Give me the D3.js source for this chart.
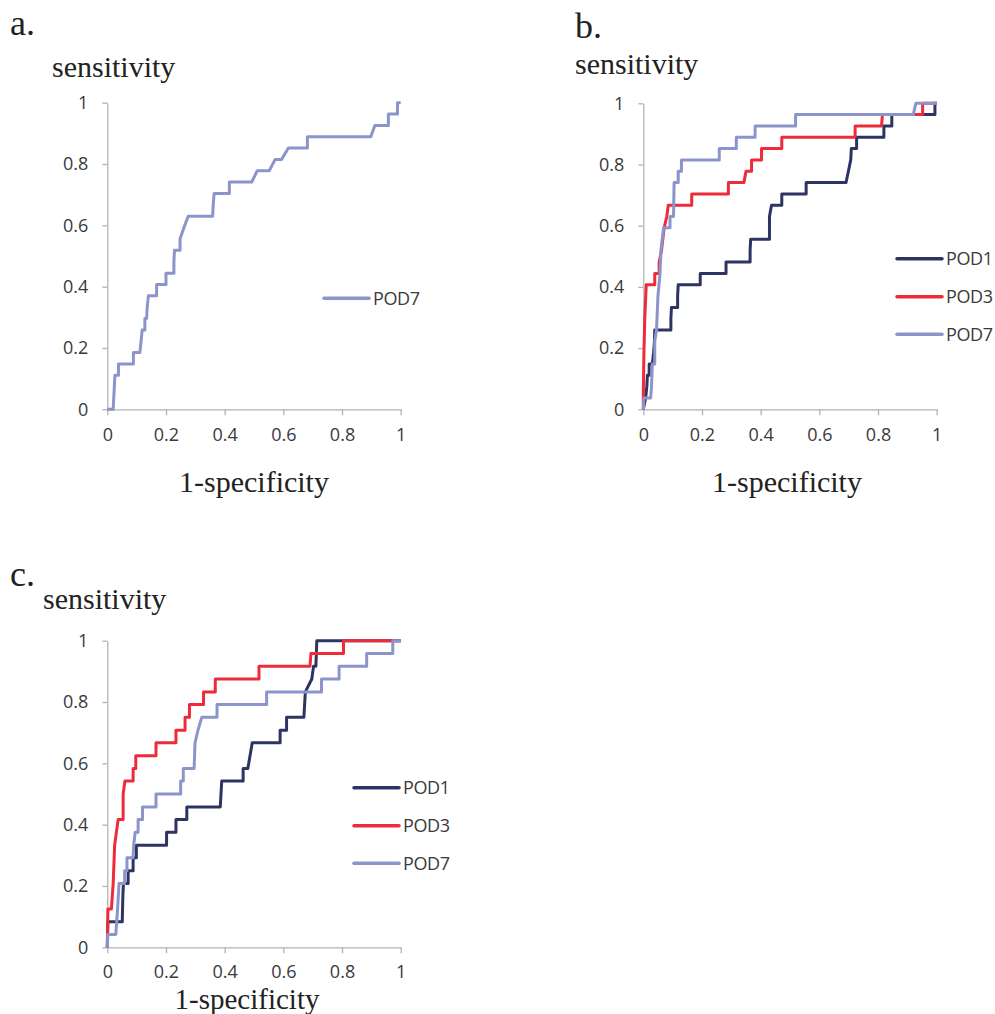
<!DOCTYPE html>
<html>
<head>
<meta charset="utf-8">
<script src="https://cdn.jsdelivr.net/npm/d3@7"></script>
<style>
  html, body { margin: 0; padding: 0; background: #fff; }
</style>
</head>
<body>
<div id="root"></div>
<script>
const SVG_WIDTH = 995;
const SVG_HEIGHT = 1014;

// tick labels
const TICKS = [0, 0.2, 0.4, 0.6, 0.8, 1];

// series names and colours
const SERIES = ['POD1', 'POD3', 'POD7'];
const COLORS = { POD1: '#2e3462', POD3: '#ee2b3b', POD7: '#8b95cc' };

// ROC points [1-specificity, sensitivity]
const aPod7 = [
  [0, 0], [0.02, 0], [0.026, 0.111], [0.038, 0.111], [0.038, 0.148], [0.089, 0.148], [0.089, 0.185],
  [0.111, 0.185], [0.119, 0.259], [0.128, 0.259], [0.128, 0.296], [0.134, 0.296], [0.136, 0.333],
  [0.14, 0.37], [0.168, 0.37], [0.168, 0.407], [0.2, 0.407], [0.2, 0.444], [0.227, 0.444],
  [0.227, 0.481], [0.229, 0.519], [0.248, 0.519], [0.248, 0.556], [0.266, 0.605], [0.276, 0.63],
  [0.359, 0.63], [0.361, 0.667], [0.364, 0.704], [0.416, 0.704], [0.416, 0.741], [0.492, 0.741],
  [0.511, 0.778], [0.552, 0.778], [0.572, 0.815], [0.594, 0.815], [0.617, 0.852], [0.682, 0.852],
  [0.682, 0.889], [0.898, 0.889], [0.912, 0.926], [0.958, 0.926], [0.958, 0.963], [0.989, 0.963],
  [0.989, 1], [1, 1],
];

const bPod1 = [
  [0, 0], [0.008, 0.037], [0.012, 0.074], [0.014, 0.111], [0.02, 0.111], [0.02, 0.148], [0.031, 0.148],
  [0.035, 0.185], [0.038, 0.222], [0.039, 0.259], [0.094, 0.259], [0.094, 0.296], [0.096, 0.333],
  [0.117, 0.333], [0.117, 0.37], [0.119, 0.407], [0.194, 0.407], [0.194, 0.444], [0.282, 0.444],
  [0.282, 0.481], [0.364, 0.481], [0.364, 0.519], [0.366, 0.556], [0.43, 0.556], [0.43, 0.63],
  [0.437, 0.667], [0.472, 0.667], [0.472, 0.704], [0.555, 0.704], [0.555, 0.741], [0.691, 0.741],
  [0.699, 0.778], [0.707, 0.815], [0.709, 0.852], [0.727, 0.852], [0.727, 0.889], [0.82, 0.889],
  [0.82, 0.926], [0.847, 0.926], [0.847, 0.963], [0.994, 0.963], [0.994, 1], [1, 1],
];

const bPod3 = [
  [0, 0], [0, 0.044], [0.002, 0.18], [0.005, 0.296], [0.01, 0.407], [0.039, 0.407], [0.039, 0.444],
  [0.054, 0.444], [0.054, 0.481], [0.062, 0.519], [0.071, 0.593], [0.08, 0.63], [0.085, 0.667],
  [0.165, 0.667], [0.165, 0.704], [0.29, 0.704], [0.29, 0.741], [0.343, 0.741], [0.35, 0.778],
  [0.369, 0.778], [0.369, 0.815], [0.403, 0.815], [0.403, 0.852], [0.472, 0.852], [0.472, 0.889],
  [0.722, 0.889], [0.722, 0.926], [0.812, 0.926], [0.815, 0.963], [0.952, 0.963], [0.952, 1], [1, 1],
];

const bPod7 = [
  [0, 0], [0.002, 0.037], [0.025, 0.037], [0.028, 0.074], [0.031, 0.148], [0.039, 0.148],
  [0.039, 0.222], [0.045, 0.259], [0.05, 0.37], [0.057, 0.444], [0.06, 0.519], [0.069, 0.593],
  [0.091, 0.593], [0.091, 0.63], [0.103, 0.63], [0.105, 0.741], [0.119, 0.741], [0.119, 0.778],
  [0.13, 0.778], [0.13, 0.815], [0.259, 0.815], [0.259, 0.852], [0.317, 0.852], [0.317, 0.889],
  [0.381, 0.889], [0.381, 0.926], [0.519, 0.926], [0.519, 0.963], [0.92, 0.963], [0.929, 1], [1, 1],
];

const cPod1 = [
  [0, 0], [0.002, 0.083], [0.051, 0.083], [0.053, 0.167], [0.055, 0.208], [0.071, 0.208],
  [0.071, 0.25], [0.088, 0.25], [0.088, 0.292], [0.099, 0.292], [0.099, 0.333], [0.202, 0.333],
  [0.202, 0.375], [0.234, 0.375], [0.234, 0.417], [0.271, 0.417], [0.271, 0.458], [0.385, 0.458],
  [0.39, 0.542], [0.463, 0.542], [0.463, 0.583], [0.479, 0.583], [0.494, 0.667], [0.589, 0.667],
  [0.589, 0.708], [0.611, 0.708], [0.611, 0.75], [0.67, 0.75], [0.675, 0.833], [0.697, 0.875],
  [0.703, 0.917], [0.711, 0.917], [0.714, 1], [1, 1],
];

const cPod3 = [
  [0, 0], [0.002, 0.125], [0.014, 0.125], [0.02, 0.208], [0.025, 0.333], [0.031, 0.375],
  [0.037, 0.417], [0.054, 0.417], [0.054, 0.5], [0.06, 0.542], [0.088, 0.542], [0.088, 0.583],
  [0.097, 0.583], [0.097, 0.625], [0.166, 0.625], [0.166, 0.667], [0.234, 0.667], [0.234, 0.708],
  [0.265, 0.708], [0.265, 0.75], [0.28, 0.75], [0.28, 0.792], [0.328, 0.792], [0.328, 0.833],
  [0.368, 0.833], [0.368, 0.875], [0.517, 0.875], [0.517, 0.917], [0.691, 0.917], [0.694, 0.958],
  [0.805, 0.958], [0.805, 1], [1, 1],
];

const cPod7 = [
  [0, 0], [0.002, 0.042], [0.029, 0.042], [0.035, 0.125], [0.04, 0.208], [0.059, 0.208],
  [0.059, 0.25], [0.067, 0.25], [0.067, 0.292], [0.088, 0.292], [0.09, 0.333], [0.095, 0.375],
  [0.105, 0.375], [0.105, 0.417], [0.12, 0.417], [0.12, 0.458], [0.166, 0.458], [0.166, 0.5],
  [0.25, 0.5], [0.25, 0.542], [0.259, 0.542], [0.259, 0.583], [0.296, 0.583], [0.299, 0.667],
  [0.309, 0.708], [0.322, 0.75], [0.374, 0.75], [0.374, 0.792], [0.543, 0.792], [0.543, 0.833],
  [0.73, 0.833], [0.73, 0.875], [0.79, 0.875], [0.79, 0.917], [0.884, 0.917], [0.884, 0.958],
  [0.973, 0.958], [0.973, 1], [1, 1],
];

const PANELS = [
  {
    tag: 'a.', tagX: 10, tagY: 35,
    yTitleX: 52, yTitleY: 77,
    xTitleX: 254, xTitleY: 492, xTitleSize: 30, xPad: 13,
    left: 107.3, right: 400.7, top: 102.7, bottom: 409.3,
    curves: { POD7: aPod7 },
    legendX: 324, legendY: [298.3],
  },
  {
    tag: 'b.', tagX: 575, tagY: 38,
    yTitleX: 575, yTitleY: 74,
    xTitleX: 787, xTitleY: 492, xTitleSize: 30, xPad: 13,
    left: 643.3, right: 936.7, top: 103.3, bottom: 409.3,
    curves: { POD1: bPod1, POD3: bPod3, POD7: bPod7 },
    legendX: 897, legendY: [258.7, 296.7, 334.3],
  },
  {
    tag: 'c.', tagX: 10, tagY: 586,
    yTitleX: 43, yTitleY: 609,
    xTitleX: 247, xTitleY: 1009, xTitleSize: 29, xPad: 12,
    left: 107.3, right: 400.7, top: 640.7, bottom: 947.3,
    curves: { POD1: cPod1, POD3: cPod3, POD7: cPod7 },
    legendX: 354, legendY: [787.7, 825.7, 863.3],
  },
];

const SANS = '"Open Sans", Lato, sans-serif';
const SERIF = '"Liberation Serif", "DejaVu Serif", serif';

function addSvg() {
  const svg = document.createElementNS('http://www.w3.org/2000/svg', 'svg');
  svg.id = 'svg';
  svg.setAttribute('width', SVG_WIDTH);
  svg.setAttribute('height', SVG_HEIGHT);
  return svg;
}

function drawPanel(p) {
  const svg = d3.select('#svg');
  const g = svg.append('g');
  const xScale = d3.scaleLinear().domain([0, 1]).range([p.left, p.right]);
  const yScale = d3.scaleLinear().domain([0, 1]).range([p.bottom, p.top]);

  // axes
  const xAxis = g.append('g')
    .attr('transform', `translate(0,${p.bottom})`)
    .call(d3.axisBottom(xScale).tickValues(TICKS).tickFormat(String).tickSize(6).tickSizeOuter(0).tickPadding(p.xPad));
  const yAxis = g.append('g')
    .attr('transform', `translate(${p.left},0)`)
    .call(d3.axisLeft(yScale).tickValues(TICKS).tickFormat(String).tickSize(5).tickSizeOuter(0).tickPadding(14));
  [xAxis, yAxis].forEach((ax) => {
    ax.selectAll('path, line').attr('stroke', '#b3b3b3').attr('stroke-width', 1.3);
    ax.selectAll('text')
      .attr('fill', '#3a3a3a')
      .style('font-family', SANS)
      .style('font-size', '18px');
  });

  // curves
  const line = d3.line().x((d) => xScale(d[0])).y((d) => yScale(d[1]));
  const names = Object.keys(p.curves);
  names.forEach((name) => {
    g.append('path')
      .attr('d', line(p.curves[name]))
      .attr('fill', 'none')
      .attr('stroke', COLORS[name])
      .attr('stroke-width', 3)
      .attr('stroke-linejoin', 'round');
  });

  // legend
  names.forEach((name, i) => {
    const ly = p.legendY[i];
    g.append('line')
      .attr('x1', p.legendX).attr('x2', p.legendX + 45)
      .attr('y1', ly).attr('y2', ly)
      .attr('stroke', COLORS[name])
      .attr('stroke-width', 3.5)
      .attr('stroke-linecap', 'round');
    g.append('text')
      .attr('x', p.legendX + 49).attr('y', ly)
      .attr('dy', '0.36em')
      .attr('fill', '#3a3a3a')
      .style('font-family', SANS)
      .style('font-size', '18px')
      .style('letter-spacing', '-0.4px')
      .text(name);
  });

  // titles
  g.append('text').attr('x', p.tagX).attr('y', p.tagY)
    .style('font-family', SERIF).style('font-size', '36px').attr('fill', '#222').text(p.tag);
  g.append('text').attr('x', p.yTitleX).attr('y', p.yTitleY)
    .style('font-family', SERIF).style('font-size', '30px').attr('fill', '#222').text('sensitivity');
  g.append('text').attr('x', p.xTitleX).attr('y', p.xTitleY)
    .attr('text-anchor', 'middle')
    .style('font-family', SERIF).style('font-size', `${p.xTitleSize}px`).attr('fill', '#222').text('1-specificity');
}

function main() {
  PANELS.forEach(drawPanel);
}

const root = document.getElementById('root');
root.appendChild(addSvg());
main();
</script>
</body>
</html>
